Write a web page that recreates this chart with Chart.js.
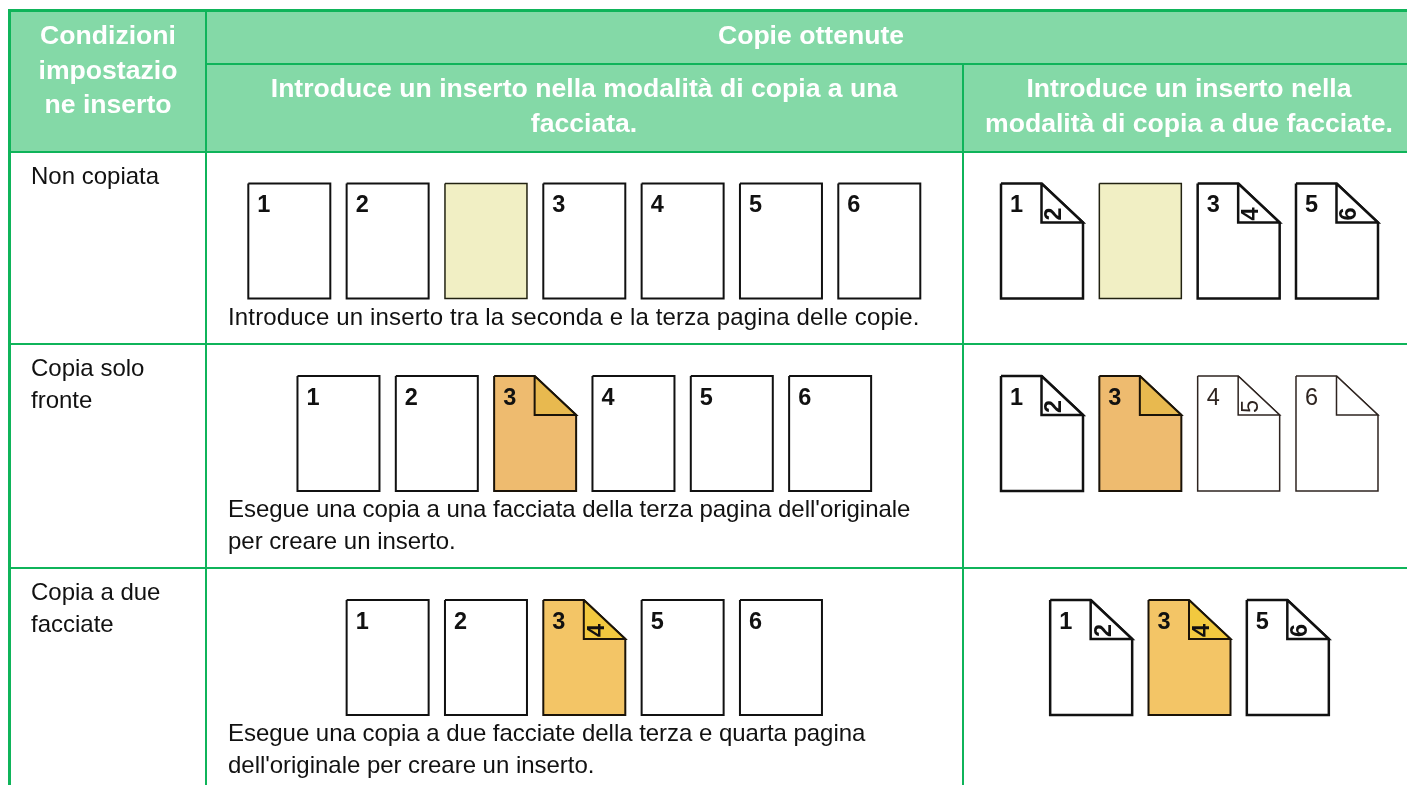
<!DOCTYPE html>
<html lang="it">
<head>
<meta charset="utf-8">
<title>Copie ottenute</title>
<script src="https://cdn.jsdelivr.net/npm/chart.js@4/dist/chart.umd.min.js"></script>
<style>
    html, body { margin: 0; padding: 0; background: #fff; overflow: hidden; }
    canvas { display: block; }
</style>
</head>
<body>
<canvas id="insertChart" width="1407" height="785"></canvas>
<script>
// Text of the table
const headerConditions = ['Condizioni', 'impostazio', 'ne inserto'];
const headerCopies = ['Copie ottenute'];
const headerSingle = ['Introduce un inserto nella modalità di copia a una', 'facciata.'];
const headerDuplex = ['Introduce un inserto nella', 'modalità di copia a due facciate.'];
const conditionRow1 = ['Non copiata'];
const conditionRow2 = ['Copia solo', 'fronte'];
const conditionRow3 = ['Copia a due', 'facciate'];
const captionRow1 = ['Introduce un inserto tra la seconda e la terza pagina delle copie.'];
const captionRow2 = ["Esegue una copia a una facciata della terza pagina dell'originale", 'per creare un inserto.'];
const captionRow3 = ['Esegue una copia a due facciate della terza e quarta pagina', "dell'originale per creare un inserto."];

// Sheets shown in each cell: front number, back number, kind
const row1SingleFront = ['1', '2', '', '3', '4', '5', '6'];
const row1SingleBack = ['', '', '', '', '', '', ''];
const row1SingleKind = ['plain', 'plain', 'insert', 'plain', 'plain', 'plain', 'plain'];
const row1DuplexFront = ['1', '', '3', '5'];
const row1DuplexBack = ['2', '', '4', '6'];
const row1DuplexKind = ['fold', 'insert', 'fold', 'fold'];

const row2SingleFront = ['1', '2', '3', '4', '5', '6'];
const row2SingleBack = ['', '', '', '', '', ''];
const row2SingleKind = ['plain', 'plain', 'orange', 'plain', 'plain', 'plain'];
const row2DuplexFront = ['1', '3', '4', '6'];
const row2DuplexBack = ['2', '', '5', ''];
const row2DuplexKind = ['fold', 'orange', 'faint', 'faint'];

const row3SingleFront = ['1', '2', '3', '5', '6'];
const row3SingleBack = ['', '', '4', '', ''];
const row3SingleKind = ['plain', 'plain', 'yellow', 'plain', 'plain'];
const row3DuplexFront = ['1', '3', '5'];
const row3DuplexBack = ['2', '4', '6'];
const row3DuplexKind = ['fold', 'yellow', 'fold'];

// Layout of the picture, in picture pixels
const GREEN = '#0fb45a';
const HEADER_BG = '#84d9a7';
const SHEET_W = 82, SHEET_H = 115, SHEET_STEP = 98.33;
const FOLD_X = 40.5, FOLD_Y = 39;
const SINGLE_CENTER = 584.3, DUPLEX_CENTER = 1189.5;
const ROW_TOPS = [183.5, 376, 600];

const kindStyles = {
    plain: { fill: '#ffffff', line: '#111111', width: 2, fold: false },
    insert: { fill: '#f1efc4', line: '#222211', width: 1.5, fold: false },
    fold: { fill: '#ffffff', line: '#111111', width: 2.5, fold: true, flap: '#ffffff' },
    orange: { fill: '#eebb6f', line: '#1a1308', width: 2, fold: true, flap: '#e8b94f' },
    yellow: { fill: '#f3c566', line: '#1a1308', width: 2, fold: true, flap: '#f2c93f' },
    faint: { fill: '#ffffff', line: '#2e2420', width: 1.5, fold: true, flap: '#ffffff', light: true }
};

const datasets = [];
const labels = [];

function shape(points, color, width, fill) {
    datasets.push({
        data: points,
        showLine: true,
        borderColor: color,
        borderWidth: width,
        backgroundColor: fill || 'transparent',
        fill: fill ? 'shape' : false,
        pointRadius: 0,
        tension: 0,
        borderJoinStyle: 'miter',
        borderCapStyle: 'butt',
        clip: false
    });
}

function addText(lines, x, y, lineGap, font, color, align, spacing) {
    lines.forEach((text, i) => labels.push({ text, x, y: y + i * lineGap, font, color, align, spacing }));
}

function addSheets(fronts, backs, kinds, center, top) {
    const total = (fronts.length - 1) * SHEET_STEP + SHEET_W;
    fronts.forEach((front, i) => {
        const style = kindStyles[kinds[i]];
        const l = center - total / 2 + i * SHEET_STEP;
        const r = l + SHEET_W;
        const b = top + SHEET_H;
        const fx = l + FOLD_X;
        const fy = top + FOLD_Y;
        if (style.fold) {
            shape([{ x: l, y: top }, { x: fx, y: top }, { x: r, y: fy }, { x: r, y: b }, { x: l, y: b }, { x: l, y: top }],
                style.line, style.width, style.fill);
            shape([{ x: fx, y: top }, { x: r, y: fy }, { x: fx, y: fy }, { x: fx, y: top }],
                style.line, style.width, style.flap);
        } else {
            shape([{ x: l, y: top }, { x: r, y: top }, { x: r, y: b }, { x: l, y: b }, { x: l, y: top }],
                style.line, style.width, style.fill);
        }
        const numFont = (style.light ? '' : 'bold ') + '23.5px "Liberation Sans"';
        const numColor = style.light ? '#2e2420' : '#111111';
        if (front) labels.push({ text: front, x: l + 9, y: top + 28.5, font: numFont, color: numColor, align: 'left' });
        if (backs[i]) labels.push({ text: backs[i], x: fx + 13.5, y: fy - 8.5, font: numFont, color: numColor, align: 'center', rotate: true });
    });
}

// Header background, then grid lines
shape([{ x: 9, y: 10 }, { x: 1407, y: 10 }, { x: 1407, y: 152 }, { x: 9, y: 152 }, { x: 9, y: 10 }], HEADER_BG, 0, HEADER_BG);
shape([{ x: 8, y: 10.5 }, { x: 1407, y: 10.5 }], GREEN, 3);
shape([{ x: 206, y: 64 }, { x: 1407, y: 64 }], GREEN, 2);
shape([{ x: 8, y: 152 }, { x: 1407, y: 152 }], GREEN, 2);
shape([{ x: 8, y: 344 }, { x: 1407, y: 344 }], GREEN, 2);
shape([{ x: 8, y: 568 }, { x: 1407, y: 568 }], GREEN, 2);
shape([{ x: 9.5, y: 9 }, { x: 9.5, y: 785 }], GREEN, 3);
shape([{ x: 206, y: 10 }, { x: 206, y: 785 }], GREEN, 2);
shape([{ x: 963, y: 64 }, { x: 963, y: 785 }], GREEN, 2);

addSheets(row1SingleFront, row1SingleBack, row1SingleKind, SINGLE_CENTER, ROW_TOPS[0]);
addSheets(row1DuplexFront, row1DuplexBack, row1DuplexKind, DUPLEX_CENTER, ROW_TOPS[0]);
addSheets(row2SingleFront, row2SingleBack, row2SingleKind, SINGLE_CENTER, ROW_TOPS[1]);
addSheets(row2DuplexFront, row2DuplexBack, row2DuplexKind, DUPLEX_CENTER, ROW_TOPS[1]);
addSheets(row3SingleFront, row3SingleBack, row3SingleKind, SINGLE_CENTER, ROW_TOPS[2]);
addSheets(row3DuplexFront, row3DuplexBack, row3DuplexKind, DUPLEX_CENTER, ROW_TOPS[2]);

const headFont = 'bold 26.6px "Liberation Sans"';
const bodyFont = '24px "Liberation Sans"';
addText(headerConditions, 108, 44, 34.5, headFont, '#ffffff', 'center');
addText(headerCopies, 811, 44, 0, headFont, '#ffffff', 'center');
addText(headerSingle, 584, 97, 35, headFont, '#ffffff', 'center');
addText(headerDuplex, 1189, 97, 35, headFont, '#ffffff', 'center');
addText(conditionRow1, 31, 184, 32, bodyFont, '#111111', 'left');
addText(conditionRow2, 31, 376, 32, bodyFont, '#111111', 'left');
addText(conditionRow3, 31, 600, 32, bodyFont, '#111111', 'left');
addText(captionRow1, 228, 325, 32, bodyFont, '#111111', 'left', '0.15px');
addText(captionRow2, 228, 517, 32, bodyFont, '#111111', 'left', '-0.02px');
addText(captionRow3, 228, 741, 32, bodyFont, '#111111', 'left', '-0.03px');

// Writes the table text at scale positions
const tableText = {
    id: 'tableText',
    afterDatasetsDraw(chart) {
        const ctx = chart.ctx;
        const xs = chart.scales.x;
        const ys = chart.scales.y;
        labels.forEach(item => {
            ctx.save();
            ctx.font = item.font;
            ctx.fillStyle = item.color;
            ctx.textAlign = item.align;
            ctx.textBaseline = 'alphabetic';
            if (item.spacing) ctx.letterSpacing = item.spacing;
            ctx.translate(xs.getPixelForValue(item.x), ys.getPixelForValue(item.y));
            if (item.rotate) {
                ctx.rotate(-Math.PI / 2);
                ctx.textBaseline = 'middle';
            }
            ctx.fillText(item.text, 0, 0);
            ctx.restore();
        });
    }
};

// Chart.js paints the first dataset last, so flip to keep the build order
datasets.reverse();

new Chart(document.getElementById('insertChart').getContext('2d'), {
    type: 'scatter',
    data: { datasets: datasets },
    options: {
        responsive: false,
        animation: false,
        events: [],
        layout: { padding: 0 },
        scales: {
            x: { type: 'linear', min: 0, max: 1407, display: false },
            y: { type: 'linear', min: 0, max: 785, reverse: true, display: false }
        },
        plugins: {
            legend: { display: false },
            tooltip: { enabled: false }
        }
    },
    plugins: [tableText]
});
</script>
</body>
</html>
